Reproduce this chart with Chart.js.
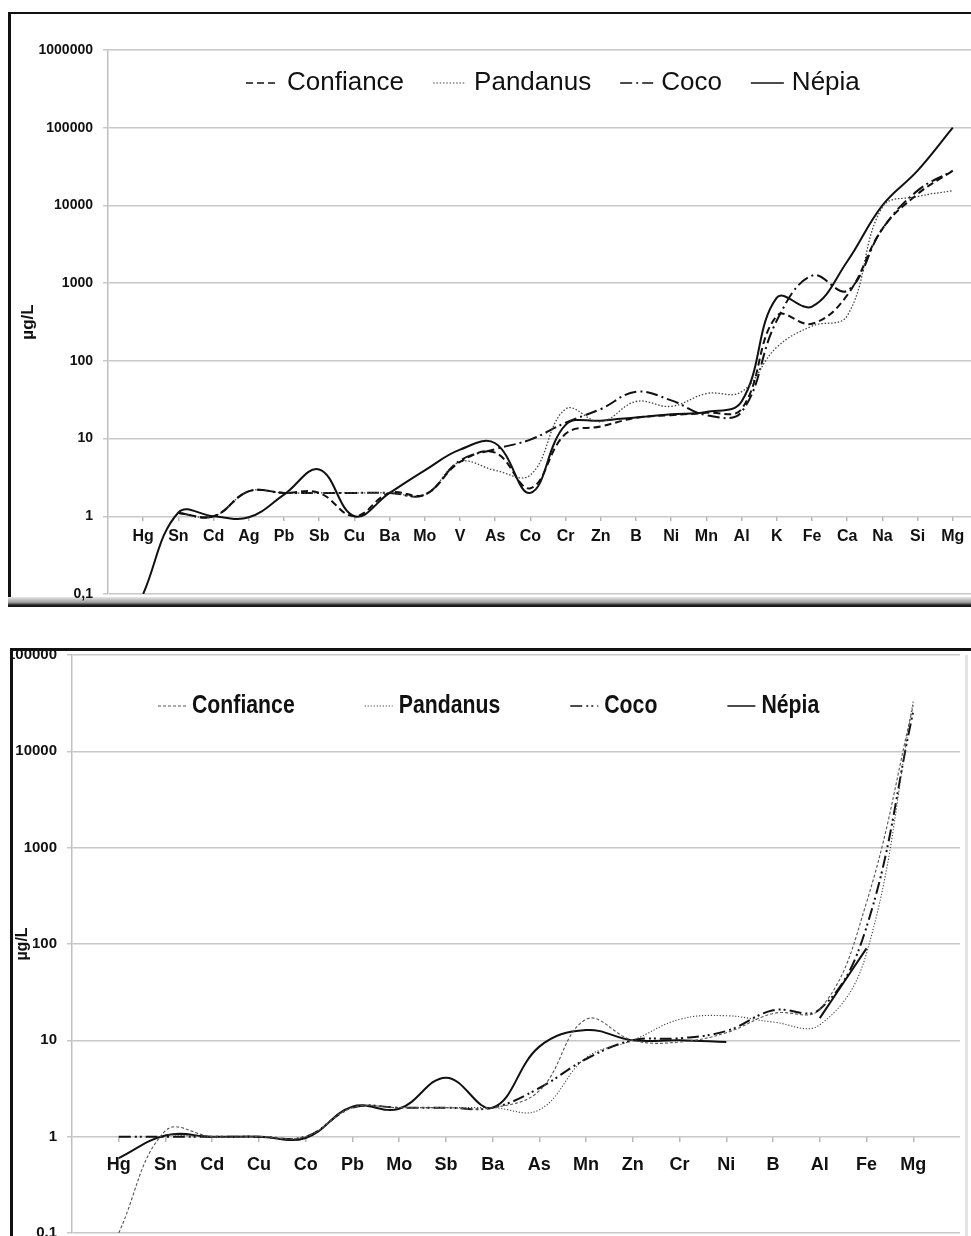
<!DOCTYPE html>
<html>
<head>
<meta charset="utf-8">
<script src="https://cdn.jsdelivr.net/npm/chart.js@4.4.1/dist/chart.umd.min.js"></script>
<style>
  html, body { margin: 0; padding: 0; background: #fff; width: 971px; height: 1236px; overflow: hidden; }
  .box { position: absolute; box-sizing: border-box; }
  #f1 { left: 8px; top: 12px; width: 1010px; height: 595px; border-top: 2px solid #111; border-left: 3px solid #111; }
  #f1shade { left: 8px; top: 597px; width: 1010px; height: 10px; background: linear-gradient(#e8e8e8, #9a9a9a 55%, #222 80%, #111); }
  #f2 { left: 10px; top: 648px; width: 1010px; height: 600px; border-top: 3px solid #111; border-left: 3px solid #111; }
  #f2edge { left: 965px; top: 655px; width: 3px; height: 590px; background: #e4e4e4; }
  canvas { position: absolute; }
  #c1 { left: 11px; top: 14px; }
  #c2 { left: 13px; top: 651px; }
</style>
</head>
<body>
<div class="box" id="f1"></div>
<div class="box" id="f1shade"></div>
<div class="box" id="f2"></div>
<div class="box" id="f2edge"></div>
<canvas id="c1" width="989" height="590"></canvas>
<canvas id="c2" width="987" height="590"></canvas>
<script>
// upper chart
const topCats = ['Hg','Sn','Cd','Ag','Pb','Sb','Cu','Ba','Mo','V','As','Co','Cr','Zn','B','Ni','Mn','Al','K','Fe','Ca','Na','Si','Mg'];
const topConfiance = [null, 1.1, 1.0, 2.1, 2.0, 2.0, 1.0, 2.0, 1.9, 5.0, 6.6, 2.3, 11.5, 14.3, 18.5, 20, 21.5, 24, 380, 300, 700, 5000, 14000, 28000];
const topPandanus  = [null, 1.1, 1.0, 2.1, 2.0, 2.0, 2.0, 2.0, 1.9, 5.0, 3.9, 3.4, 24, 16.5, 30, 26, 38, 40, 150, 280, 380, 9500, 13000, 15500];
const topCoco      = [null, 1.1, 1.0, 2.1, 2.0, 2.0, 2.0, 2.0, 1.9, 5.2, 7.3, 9.7, 16, 24, 40, 31, 20, 22, 330, 1250, 800, 5000, 15500, 28000];
const topNepia     = [0.1, 1.12, 1.0, 0.97, 1.9, 4.0, 1.0, 2.0, 3.9, 7.2, 8.7, 2.0, 15, 17, 18.7, 20.5, 22, 30, 650, 500, 1900, 10000, 28000, 100000];
const topTicks = [0.1, 1, 10, 100, 1000, 10000, 100000, 1000000];

// lower chart
const botCats = ['Hg','Sn','Cd','Cu','Co','Pb','Mo','Sb','Ba','As','Mn','Zn','Cr','Ni','B','Al','Fe','Mg'];
const botConfiance = [0.1, 1.15, 1.0, 1.0, 1.0, 2.0, 2.0, 2.0, 2.0, 3.0, 16.5, 10, 9.6, 12, 19, 21, 270, 30000];
const botPandanus  = [null, 1.05, 1.0, 1.0, 1.0, 2.0, 2.0, 2.0, 2.0, 1.9, 6.6, 10, 16.5, 18, 15.5, 14.5, 80, 33000];
const botCoco      = [1.0, 1.0, 1.0, 1.0, 1.0, 2.0, 2.0, 2.0, 2.0, 3.2, 6.4, 10, 10.5, 12.5, 20.5, 21, 150, 26000];
const botNepia     = [0.6, 1.03, 1.0, 1.0, 0.97, 2.05, 1.95, 4.1, 2.0, 8.6, 12.8, 10, 10, 9.6, null, 17, 90, null];
const botTicks = [0.1, 1, 10, 100, 1000, 10000, 100000];

const pts = arr => arr.map((v, i) => ({ x: i, y: v }));

// legend drawn inside the plot area, like the spreadsheet one
const insideLegend = {
  id: 'insideLegend',
  afterDraw(chart, args, o) {
    const ctx = chart.ctx, a = chart.chartArea;
    const sx = o.scaleX || 1;
    ctx.save();
    ctx.font = o.font;
    ctx.textBaseline = 'middle';
    let x = a.left + o.x;
    const y = a.top + o.y;
    chart.data.datasets.forEach((ds, i) => {
      ctx.strokeStyle = ds.borderColor;
      ctx.lineWidth = o.lineWidths[i];
      ctx.setLineDash(ds.borderDash || []);
      ctx.beginPath();
      ctx.moveTo(x, y);
      ctx.lineTo(x + o.lineLen, y);
      ctx.stroke();
      x += o.lineLen + o.textGap;
      ctx.save();
      ctx.translate(x, y);
      ctx.scale(sx, 1);
      ctx.fillStyle = '#111';
      ctx.fillText(ds.label, 0, 0);
      ctx.restore();
      x += ctx.measureText(ds.label).width * sx + o.itemGap;
    });
    ctx.restore();
  }
};

function makeChart(id, cfg) {
  return new Chart(document.getElementById(id), {
    type: 'line',
    data: {
      datasets: [
        { label: 'Confiance', data: pts(cfg.confiance), ...cfg.styles[0] },
        { label: 'Pandanus', data: pts(cfg.pandanus), ...cfg.styles[1] },
        { label: 'Coco', data: pts(cfg.coco), ...cfg.styles[2] },
        { label: 'Népia', data: pts(cfg.nepia), ...cfg.styles[3] }
      ]
    },
    options: {
      responsive: false,
      animation: false,
      devicePixelRatio: 1,
      layout: { padding: cfg.padding },
      elements: {
        point: { radius: 0 },
        line: { tension: 0.4, fill: false, borderCapStyle: 'butt' }
      },
      spanGaps: false,
      plugins: {
        legend: { display: false },
        tooltip: { enabled: false },
        insideLegend: cfg.legend
      },
      scales: {
        x: {
          type: 'linear',
          min: -1,
          max: cfg.xMax,
          position: { y: 1 },
          afterBuildTicks: s => { s.ticks = cfg.cats.map((c, i) => ({ value: i })); },
          afterFit: s => { s.paddingLeft = 0; s.paddingRight = 0; },
          ticks: {
            autoSkip: false,
            maxRotation: 0,
            padding: cfg.xPad,
            color: '#111',
            font: cfg.xFont,
            callback: v => cfg.cats[v] ?? ''
          },
          grid: { drawOnChartArea: false, drawTicks: true, tickLength: 5, color: '#b8b8b8', lineWidth: 1.5 },
          border: { display: false }
        },
        y: {
          type: 'logarithmic',
          min: cfg.yTicks[0],
          max: cfg.yTicks[cfg.yTicks.length - 1],
          afterBuildTicks: s => { s.ticks = cfg.yTicks.map(v => ({ value: v })); },
          afterFit: s => { s.width = cfg.yWidth; s.paddingTop = 0; s.paddingBottom = 0; },
          ticks: {
            padding: 10,
            color: '#111',
            font: cfg.yFont,
            callback: v => v === 0.1 ? cfg.tenth : String(v)
          },
          grid: { color: '#c8c8c8', lineWidth: 1.5, tickLength: 5 },
          border: { color: '#c0c0c0', width: 1.5 },
          title: {
            display: true,
            text: 'µg/L',
            color: '#111',
            font: { family: 'Liberation Sans, Arial, sans-serif', size: cfg.titleSize, weight: 'bold' },
            padding: cfg.titlePad
          }
        }
      }
    },
    plugins: [insideLegend]
  });
}

makeChart('c1', {
  cats: topCats,
  confiance: topConfiance, pandanus: topPandanus, coco: topCoco, nepia: topNepia,
  styles: [
    { borderColor: '#111', borderWidth: 2, borderDash: [7, 4] },
    { borderColor: '#444', borderWidth: 1.3, borderDash: [1.5, 1.8] },
    { borderColor: '#111', borderWidth: 2, borderDash: [12, 4, 2, 4] },
    { borderColor: '#111', borderWidth: 2, borderDash: [] }
  ],
  padding: { top: 36, bottom: 10, left: 0, right: 12 },
  xMax: 24,
  xPad: 6,
  xFont: { family: 'Liberation Sans, Arial, sans-serif', size: 16, weight: 'bold' },
  yTicks: topTicks,
  yWidth: 97,
  yFont: { family: 'Liberation Sans, Arial, sans-serif', size: 14, weight: 'bold' },
  tenth: '0,1',
  titleSize: 17,
  titlePad: { top: 7, bottom: 0 },
  legend: {
    font: '26px "Liberation Sans", Arial, sans-serif',
    x: 138, y: 33, lineLen: 33, textGap: 8, itemGap: 29,
    lineWidths: [1.5, 1, 1.5, 1.5]
  }
});

makeChart('c2', {
  cats: botCats,
  confiance: botConfiance, pandanus: botPandanus, coco: botCoco, nepia: botNepia,
  styles: [
    { borderColor: '#555', borderWidth: 1.1, borderDash: [3, 2] },
    { borderColor: '#444', borderWidth: 1.1, borderDash: [1.2, 1.8] },
    { borderColor: '#111', borderWidth: 2, borderDash: [12, 4, 2, 3, 2, 4] },
    { borderColor: '#111', borderWidth: 2, borderDash: [] }
  ],
  padding: { top: 4, bottom: 8, left: 0, right: 40 },
  xMax: 18,
  xPad: 13,
  xFont: { family: 'Liberation Sans, Arial, sans-serif', size: 18, weight: 'bold' },
  yTicks: botTicks,
  yWidth: 59,
  yFont: { family: 'Liberation Sans, Arial, sans-serif', size: 15, weight: 'bold' },
  tenth: '0.1',
  titleSize: 16,
  titlePad: { top: 0, bottom: 0 },
  legend: {
    font: 'bold 25px "Liberation Sans", Arial, sans-serif',
    scaleX: 0.85,
    x: 86, y: 51, lineLen: 28, textGap: 6, itemGap: 70,
    lineWidths: [1, 1, 1.5, 1.5]
  }
});
</script>
</body>
</html>
